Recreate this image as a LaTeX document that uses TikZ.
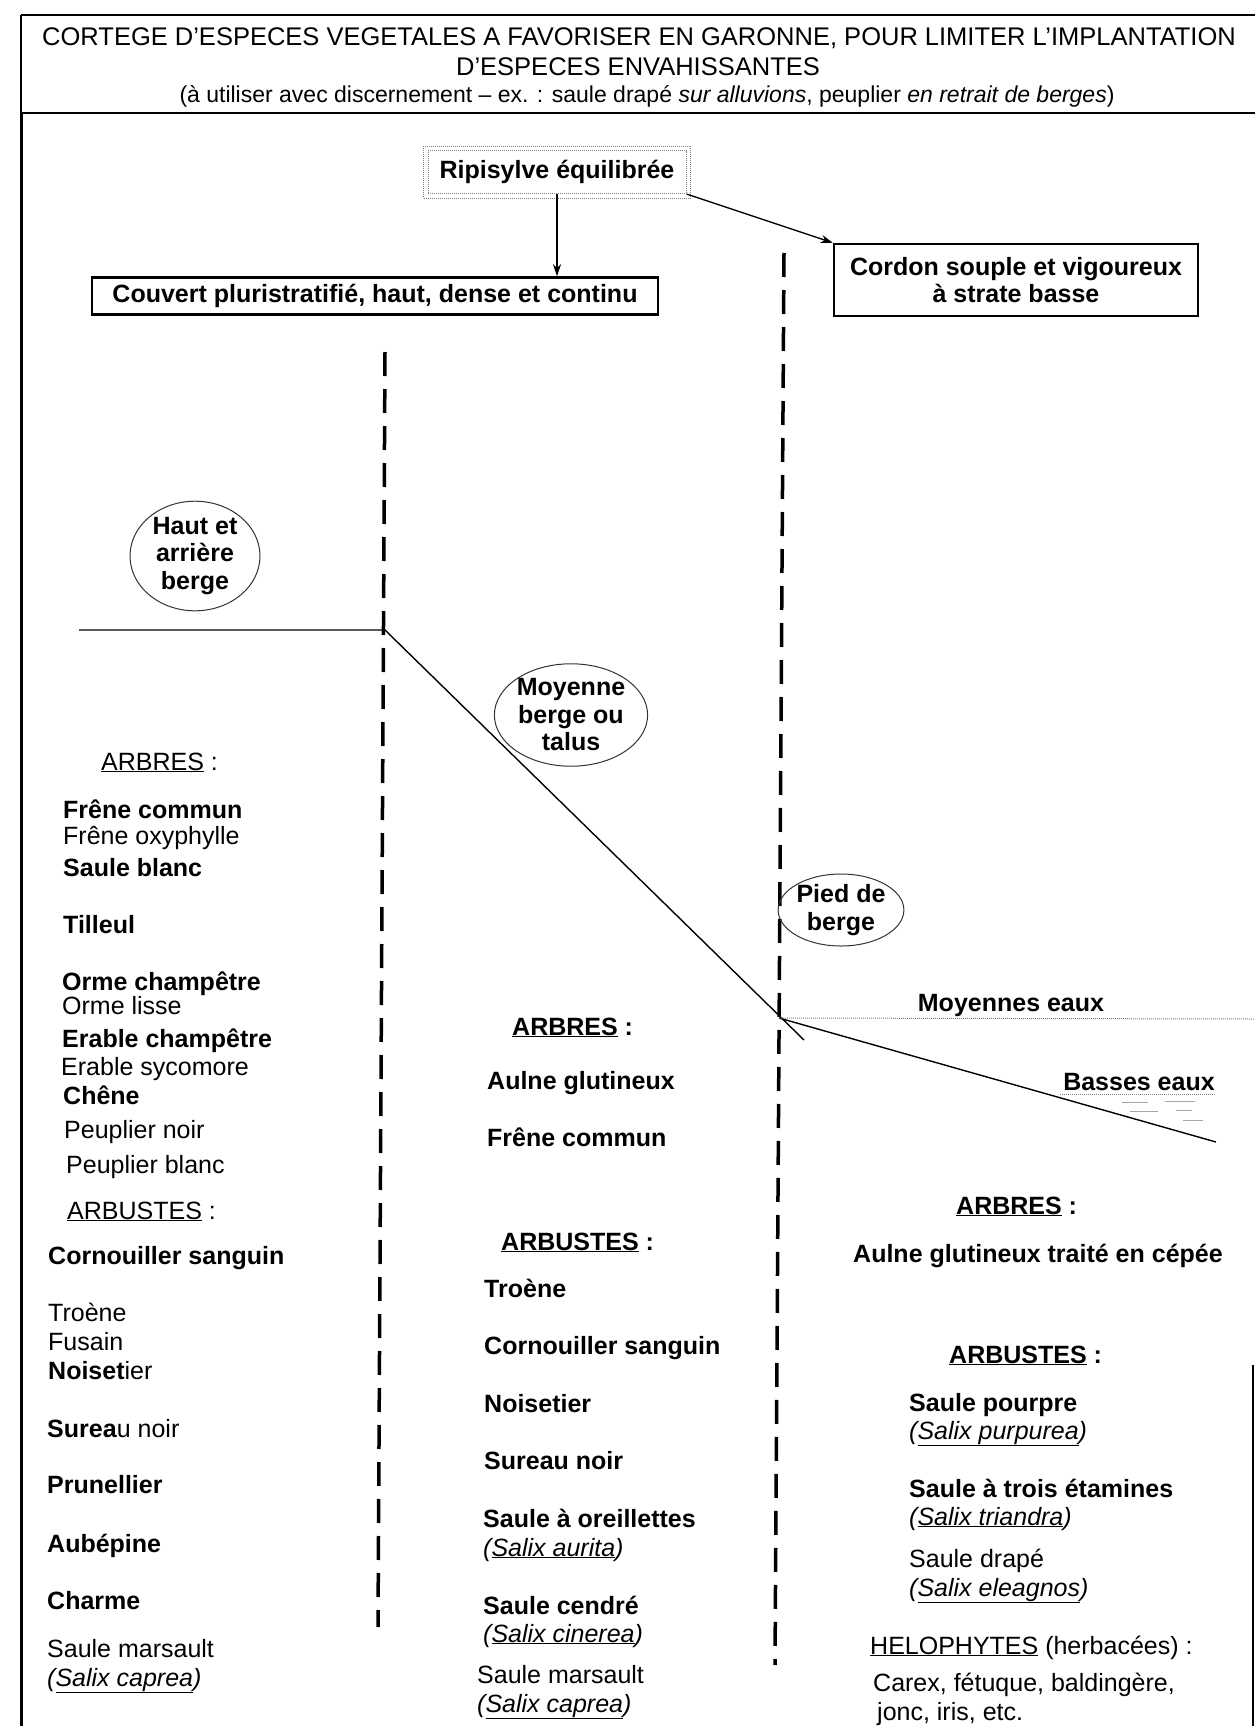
\documentclass[tikz,border=0pt]{standalone}
\usepackage{fontspec}
\setmainfont{Liberation Sans}
\usetikzlibrary{arrows.meta,shapes.geometric}
\newcommand{\txtsize}{\fontsize{25}{28}\selectfont}
\newcommand{\ttlsize}{\fontsize{25.5}{29}\selectfont}
\newcommand{\subsize}{\fontsize{23}{26}\selectfont}
\newcommand{\latin}[1]{\textit{(\underline{#1})}}
\tikzset{lbl/.style={anchor=west, inner sep=0pt, text height=19pt, text depth=5pt, font=\txtsize}}
\tikzset{blbl/.style={lbl, font=\txtsize\bfseries}}
\tikzset{zone/.style={ellipse, draw=black!80, line width=1pt, inner sep=0pt, align=center, font=\fontsize{25}{27.5}\selectfont\bfseries}}
\tikzset{stratum/.style={rectangle, draw, line width=2.5pt, inner sep=0pt, align=center, font=\fontsize{25}{27.5}\selectfont\bfseries}}
\tikzset{limit/.style={line width=3.5pt, dash pattern=on 24pt off 13pt}}
\tikzset{ground/.style={line width=1.4pt}}
\tikzset{water/.style={gray, line width=1pt, densely dotted}}
\tikzset{frame/.style={line width=1.2pt}}
\tikzset{arr/.style={line width=1.3pt, -{Stealth[length=12pt,width=8pt]}}}

\begin{document}
\begin{tikzpicture}[x=1pt, y=-1pt]
\useasboundingbox (0,0) rectangle (1255,1726);

% cadre et titre
\draw[frame] (21,15) -- (1255,15);
\draw[frame] (21,113) -- (1255,113);
\draw[frame] (21,15) -- (21,113);
\draw[line width=3pt] (21,113) -- (21,1726);
\draw[frame] (1253,1365) -- (1253,1726);
\node[font=\ttlsize] (t1) at (639,38) {CORTEGE D'ESPECES VEGETALES A FAVORISER EN GARONNE, POUR LIMITER L'IMPLANTATION};
\node[font=\ttlsize] (t2) at (638,67) {D'ESPECES ENVAHISSANTES};
\node[font=\subsize] (t3) at (647,96) {(à utiliser avec discernement – ex. : saule drapé \textit{sur alluvions}, peuplier \textit{en retrait de berges})};

% objectifs
\node[rectangle, draw=gray, densely dotted, line width=1pt, minimum width=258, minimum height=43, font=\txtsize\bfseries] (ripi) at (557,172) {Ripisylve équilibrée};
\draw[gray, densely dotted, line width=1pt] ([shift={(-4,-4)}]ripi.north west) rectangle ([shift={(4,4)}]ripi.south east);
\node[stratum, minimum width=566, minimum height=37] (couvert) at (375,296) {Couvert pluristratifié, haut, dense et continu};
\node[stratum, minimum width=364, minimum height=72] (cordon) at (1016,280) {Cordon souple et vigoureux\\à strate basse};
\draw[arr] (ripi.south) -- (ripi.south |- couvert.north);
\draw[arr] (ripi.south east) -- (cordon.north west);

% limites de zones
\coordinate (dA1) at (385,352); \coordinate (dA2) at (378,1627);
\coordinate (dB1) at (784,253); \coordinate (dB2) at (775,1665);
\draw[limit] (dA1) -- (dA2);
\draw[limit] (dB1) -- (dB2);

% profil de berge
\coordinate (g0) at (79,630); \coordinate (g1) at (385,630);
\coordinate (g2) at (779,1018); \coordinate (g3) at (804,1040);
\coordinate (g4) at (1216,1142); \coordinate (w1) at (1255,1019);
\coordinate (w2) at (1060,1094); \coordinate (w3) at (1216,1094);
\draw[ground] (g0) -- (g1) -- (g3);
\draw[ground] (g2) -- (g4);
\draw[water] (g2) -- (w1);
\draw[water] (w2) -- (w3);
\foreach \x/\y/\l in {1122/1102/26, 1165/1101/30, 1130/1111/28, 1176/1110/16, 1183/1120/20}
  \draw[gray!70, line width=0.8pt] (\x,\y) -- ++(\l,0);
\node[font=\txtsize\bfseries] (moy) at (1011,1005) {Moyennes eaux};
\node[font=\txtsize\bfseries] (bas) at (1139,1082) {Basses eaux};

\node[zone, minimum width=130, minimum height=100] (haut) at (195,556) {Haut et\\arrière\\berge};
\node[zone, minimum width=134, minimum height=98] (moyenne) at (571,715) {Moyenne\\berge ou\\talus};
\node[zone, minimum width=114, minimum height=70] (pied) at (841,910) {Pied de\\berge};

% haut et arriere berge
\node[lbl] (l1) at (101,763) {\underline{ARBRES} :};
\node[blbl] (l2) at (63,811) {Frêne commun};
\node[lbl] (l3) at (63,837) {Frêne oxyphylle};
\node[blbl] (l4) at (63,869) {Saule blanc};
\node[blbl] (l5) at (63,926) {Tilleul};
\node[blbl] (l6) at (62,983) {Orme champêtre};
\node[lbl] (l7) at (62,1007) {Orme lisse};
\node[blbl] (l8) at (62,1040) {Erable champêtre};
\node[lbl] (l9) at (61,1068) {Erable sycomore};
\node[blbl] (l10) at (63,1097) {Chêne};
\node[lbl] (l11) at (64,1131) {Peuplier noir};
\node[lbl] (l12) at (66,1166) {Peuplier blanc};
\node[lbl] (l13) at (67,1212) {\underline{ARBUSTES} :};
\node[blbl] (l14) at (48,1257) {Cornouiller sanguin};
\node[lbl] (l15) at (48,1314) {Troène};
\node[lbl] (l16) at (48,1343) {Fusain};
\node[lbl] (l17) at (48,1372) {\textbf{Noiset}ier};
\node[lbl] (l18) at (47,1430) {\textbf{Surea}u noir};
\node[blbl] (l19) at (47,1486) {Prunellier};
\node[blbl] (l20) at (47,1545) {Aubépine};
\node[blbl] (l21) at (47,1602) {Charme};
\node[lbl] (l22) at (47,1650) {Saule marsault};
\node[lbl] (l23) at (47,1679) {\latin{Salix caprea}};

% moyenne berge
\node[blbl] (m1) at (512,1028) {\underline{ARBRES} :};
\node[blbl] (m2) at (487,1082) {Aulne glutineux};
\node[blbl] (m3) at (487,1139) {Frêne commun};
\node[blbl] (m4) at (501,1243) {\underline{ARBUSTES} :};
\node[blbl] (m5) at (484,1290) {Troène};
\node[blbl] (m6) at (484,1347) {Cornouiller sanguin};
\node[blbl] (m7) at (484,1405) {Noisetier};
\node[blbl] (m8) at (484,1462) {Sureau noir};
\node[blbl] (m9) at (483,1520) {Saule à oreillettes};
\node[lbl] (m10) at (483,1549) {\latin{Salix aurita}};
\node[blbl] (m11) at (483,1607) {Saule cendré};
\node[lbl] (m12) at (483,1635) {\latin{Salix cinerea}};
\node[lbl] (m13) at (477,1676) {Saule marsault};
\node[lbl] (m14) at (477,1705) {\latin{Salix caprea}};

% pied de berge
\node[blbl] (r1) at (956,1207) {\underline{ARBRES} :};
\node[blbl] (r2) at (853,1255) {Aulne glutineux traité en cépée};
\node[blbl] (r3) at (949,1356) {\underline{ARBUSTES} :};
\node[blbl] (r4) at (909,1404) {Saule pourpre};
\node[lbl] (r5) at (909,1432) {\latin{Salix purpurea}};
\node[blbl] (r6) at (909,1490) {Saule à trois étamines};
\node[lbl] (r7) at (909,1518) {\latin{Salix triandra}};
\node[lbl] (r8) at (909,1560) {Saule drapé};
\node[lbl] (r9) at (909,1589) {\latin{Salix eleagnos}};
\node[lbl] (r10) at (870,1647) {\underline{HELOPHYTES} (herbacées) :};
\node[lbl] (r11) at (873,1684) {Carex, fétuque, baldingère,};
\node[lbl] (r12) at (877,1713) {jonc, iris, etc.};

\end{tikzpicture}
\end{document}
